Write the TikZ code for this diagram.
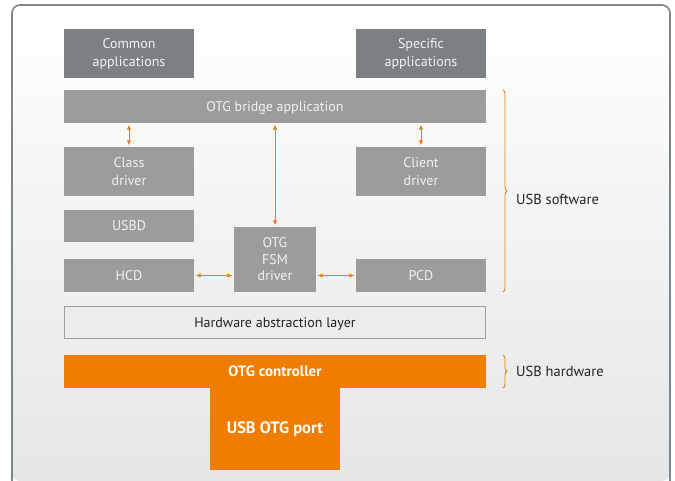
\documentclass[tikz,border=0pt]{standalone}
\usepackage{fontspec}
\setmainfont{PT Sans}
\usetikzlibrary{decorations.pathreplacing,arrows.meta,calc}
\definecolor{frame}{HTML}{7D8589}
\definecolor{panelbottom}{HTML}{E4E6E8}
\definecolor{darkbox}{HTML}{7B8183}
\definecolor{midbox}{HTML}{9C9C9C}
\definecolor{halfill}{HTML}{ECECEC}
\definecolor{halline}{HTML}{9AA0A3}
\definecolor{otgorange}{HTML}{EE7D00}
\definecolor{boxtext}{HTML}{F2F2F2}
\definecolor{labeltext}{HTML}{222222}
\tikzset{
  layer/.style={draw=none, inner sep=0pt, text=boxtext, font=\fontsize{14}{18}\selectfont, align=center},
  appbox/.style={layer, fill=darkbox, minimum width=130pt, minimum height=49pt},
  drvbox/.style={layer, fill=midbox, minimum width=130pt, minimum height=49pt},
  thinbox/.style={layer, fill=midbox, minimum width=130pt, minimum height=33pt},
  widebox/.style={layer, fill=midbox, minimum width=422pt, minimum height=33pt, text depth=0pt},
  halbox/.style={draw=halline, line width=1pt, fill=halfill, inner sep=0pt, minimum width=421pt, minimum height=32pt, text depth=0pt, text=labeltext, font=\fontsize{14}{18}\selectfont},
  hwbox/.style={fill=otgorange, inner sep=0pt, text=white, font=\fontsize{15}{18}\selectfont\bfseries},
  link/.style={draw=otgorange, line width=0.8pt, {Latex[length=5pt,width=4.5pt]}-{Latex[length=5pt,width=4.5pt]}, shorten <=1.5pt, shorten >=1.5pt},
  bracket/.style={draw=otgorange, line width=0.8pt, decorate, decoration={brace, amplitude=4pt}},
  sidelabel/.style={anchor=west, inner sep=0pt, text=labeltext, font=\fontsize{14.5}{18}\selectfont}
}
\begin{document}
\begin{tikzpicture}[x=1pt,y=-1pt]
\useasboundingbox (0,0) rectangle (675,481);
% panel with a soft vertical gradient
\shade[top color=white, bottom color=panelbottom, rounded corners=8pt]
  (12,5) rectangle (670,481);
\draw[frame, line width=1.6pt, rounded corners=8pt] (12,488) -- (12,5) -- (670,5) -- (670,488);

% application layer
\node[appbox] (common) at (129,53.5) {Common\\applications};
\node[appbox] (specific) at (421,53.5) {Specific\\applications};
\node[widebox] (bridge) at (275,106.5) {OTG bridge application};

% drivers
\node[drvbox] (class) at (129,171.5) {Class\\driver};
\node[drvbox] (client) at (421,171.5) {Client\\driver};
\node[layer, fill=midbox, minimum width=130pt, minimum height=32pt] (usbd) at (129,226) {USBD};
\node[layer, fill=midbox, minimum width=82pt, minimum height=65pt, font=\fontsize{14}{16.5}\selectfont] (fsm) at (275,259.5) {OTG\\FSM\\driver};
\node[thinbox] (hcd) at (129,275.5) {HCD};
\node[thinbox] (pcd) at (421,275.5) {PCD};

% hardware side
\node[halbox] (hal) at (275,322.5) {Hardware abstraction layer};
\node[hwbox, minimum width=422pt, minimum height=33pt] (ctrl) at (275,371.5) {OTG controller};
\node[hwbox, minimum width=130pt, minimum height=82pt, font=\fontsize{16.5}{18}\selectfont\bfseries] (port) at (275,428.5) {\raisebox{-13pt}{USB OTG port}};

% links between layers
\draw[link] (class.north) -- (class.north |- bridge.south);
\draw[link] (client.north) -- (client.north |- bridge.south);
\draw[link] (fsm.north) -- (fsm.north |- bridge.south);
\draw[link] (hcd.east) -- (hcd.east -| fsm.west);
\draw[link] (pcd.west) -- (pcd.west -| fsm.east);

% braces
\coordinate (swtop) at (503,90);
\coordinate (swbot) at (503,292);
\coordinate (hwtop) at (503,355);
\coordinate (hwbot) at (503,388);
\draw[bracket] (swtop) -- (swbot);
\draw[bracket] (hwtop) -- (hwbot);
\node[sidelabel] (swlabel) at (516,199) {USB software};
\node[sidelabel] (hwlabel) at (516,371.5) {USB hardware};
\end{tikzpicture}
\end{document}
